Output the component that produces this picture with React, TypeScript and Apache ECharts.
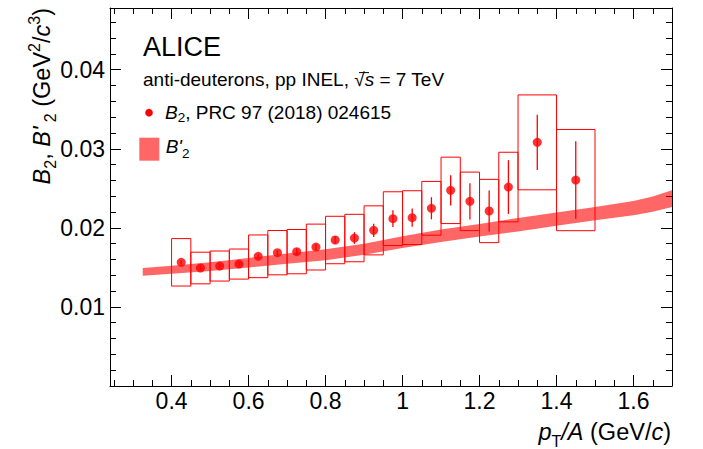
import React, { useEffect, useRef } from "react";
import * as echarts from "echarts";

const FONT = "'Liberation Sans', Arial, Helvetica, sans-serif";

// Data points (B2, PRC 97 (2018) 024615)
const binCenters = [0.425, 0.475, 0.525, 0.575, 0.625, 0.675, 0.725, 0.775, 0.825, 0.875, 0.925, 0.975, 1.025, 1.075, 1.125, 1.175, 1.225, 1.275, 1.35, 1.45];
const binLow = [0.4, 0.45, 0.5, 0.55, 0.6, 0.65, 0.7, 0.75, 0.8, 0.85, 0.9, 0.95, 1.0, 1.05, 1.1, 1.15, 1.2, 1.25, 1.3, 1.4];
const binHigh = [0.45, 0.5, 0.55, 0.6, 0.65, 0.7, 0.75, 0.8, 0.85, 0.9, 0.95, 1.0, 1.05, 1.1, 1.15, 1.2, 1.25, 1.3, 1.4, 1.5];
const b2Values = [0.01564, 0.01492, 0.01517, 0.01542, 0.0164, 0.01686, 0.01699, 0.01757, 0.01846, 0.01871, 0.01968, 0.02116, 0.02129, 0.02247, 0.02474, 0.02335, 0.02213, 0.02516, 0.03081, 0.02604];
const statErrors = [0.0003, 0.0003, 0.0003, 0.0003, 0.0003, 0.0003, 0.0004, 0.0004, 0.0005, 0.00074, 0.00084, 0.00105, 0.00116, 0.0014, 0.0019, 0.0023, 0.0026, 0.0034, 0.0035, 0.0049];
const systErrors = [0.003, 0.002, 0.0019, 0.0019, 0.0027, 0.0028, 0.0028, 0.0029, 0.003, 0.003, 0.0031, 0.0034, 0.0034, 0.0034, 0.0042, 0.0037, 0.004, 0.0044, 0.006, 0.0064];

// B'2 band
const bandX = [0.325, 0.4, 0.5, 0.6, 0.7, 0.8, 0.9, 1.0, 1.1, 1.2, 1.3, 1.4, 1.5, 1.6, 1.65, 1.7];
const bandLow = [0.01393, 0.0142, 0.01455, 0.015, 0.01545, 0.0159, 0.0166, 0.01745, 0.0182, 0.0189, 0.01955, 0.02025, 0.02095, 0.0216, 0.02205, 0.02265];
const bandHigh = [0.01493, 0.0152, 0.01565, 0.0162, 0.01675, 0.0173, 0.018, 0.01895, 0.0198, 0.0205, 0.02125, 0.02195, 0.02265, 0.0234, 0.02395, 0.02475];

// Tick labels
const xTickLabels = ["0.4", "0.6", "0.8", "1", "1.2", "1.4", "1.6"];
const yTickLabels = ["0.01", "0.02", "0.03", "0.04"];

const RED = "#ff0000";
const BAND = "rgba(255,0,0,0.6)";

const X_MIN = 0.24;
const X_MAX = 1.7;
const Y_MIN = 0;
const Y_MAX = 0.0478;

function xFmt(v: number) {
  const s = String(Math.round(v * 100) / 100);
  return xTickLabels.includes(s) ? s : "";
}
function yFmt(v: number) {
  const s = String(Math.round(v * 1000) / 1000);
  return yTickLabels.includes(s) ? s : "";
}

const tickStyle = { color: "#000", width: 1 };

function makeX(position: "bottom" | "top", labels: boolean) {
  return {
    type: "value",
    position,
    min: X_MIN,
    max: X_MAX,
    splitNumber: 7,
    axisLine: { show: true, onZero: false, lineStyle: { color: "#000", width: 1 } },
    axisTick: { show: true, inside: true, length: 11, lineStyle: tickStyle },
    minorTick: { show: true, splitNumber: 4, length: 6, lineStyle: tickStyle },
    axisLabel: {
      show: labels,
      formatter: xFmt,
      color: "#000",
      fontFamily: FONT,
      fontSize: 23,
      margin: 3,
      showMinLabel: false,
      showMaxLabel: false,
    },
    splitLine: { show: false },
  };
}
function makeY(position: "left" | "right", labels: boolean) {
  return {
    type: "value",
    position,
    min: Y_MIN,
    max: Y_MAX,
    interval: 0.01,
    axisLine: { show: true, onZero: false, lineStyle: { color: "#000", width: 1 } },
    axisTick: { show: true, inside: true, length: 11, lineStyle: tickStyle },
    minorTick: { show: true, splitNumber: 5, length: 6, lineStyle: tickStyle },
    axisLabel: {
      show: labels,
      formatter: yFmt,
      color: "#000",
      fontFamily: FONT,
      fontSize: 23,
      margin: 5,
      showMinLabel: false,
      showMaxLabel: false,
    },
    splitLine: { show: false },
  };
}

const titleRich = (size: number, sub: number, lh: number) => ({
  r: { fontFamily: FONT, fontSize: size, lineHeight: lh, fill: "#000" },
  i: { fontFamily: FONT, fontSize: size, fontStyle: "italic", lineHeight: lh, fill: "#000" },
  sub: { fontFamily: FONT, fontSize: sub, verticalAlign: "bottom", fill: "#000" },
  sup: { fontFamily: FONT, fontSize: sub, verticalAlign: "top", fill: "#000" },
});

const option: any = {
  animation: false,
  backgroundColor: "#fff",
  grid: { left: 110, right: 31, top: 8, bottom: 63, containLabel: false },
  xAxis: [makeX("bottom", true), makeX("top", false)],
  yAxis: [makeY("left", true), makeY("right", false)],
  graphic: [
    {
      type: "text",
      x: 143,
      y: 46.6,
      style: { text: "ALICE", fontFamily: FONT, fontSize: 27, fill: "#000", textAlign: "left", textVerticalAlign: "middle" },
    },
    {
      type: "text",
      x: 143,
      y: 79.4,
      style: {
        text: "{r|anti-deuterons, pp INEL, √}{i|s}{r| = 7 TeV}",
        rich: titleRich(19, 13.5, 24),
        textAlign: "left",
        textVerticalAlign: "middle",
      },
    },
    {
      type: "line",
      shape: { x1: 359, y1: 72.6, x2: 369, y2: 72.6 },
      style: { stroke: "#000", lineWidth: 1 },
    },
    {
      type: "circle",
      shape: { cx: 149, cy: 112.7, r: 3.8 },
      style: { fill: RED },
    },
    {
      type: "text",
      x: 165,
      y: 112.7,
      style: {
        text: "{i|B}{sub|2}{r|, PRC 97 (2018) 024615}",
        rich: titleRich(19, 13.5, 24),
        textAlign: "left",
        textVerticalAlign: "middle",
      },
    },
    {
      type: "rect",
      shape: { x: 139.3, y: 137.7, width: 20, height: 23 },
      style: { fill: BAND },
    },
    {
      type: "text",
      x: 165.7,
      y: 146.7,
      style: {
        text: "{i|B'}{sub|2}",
        rich: titleRich(19, 13.5, 28),
        textAlign: "left",
        textVerticalAlign: "middle",
      },
    },
    {
      type: "text",
      x: 671,
      y: 432,
      style: {
        text: "{i|p}{sub|T}{i|/A}{r| (GeV/}{i|c}{r|)}",
        rich: titleRich(23.5, 16, 35),
        textAlign: "right",
        textVerticalAlign: "middle",
      },
    },
    {
      type: "text",
      x: 42,
      y: 8,
      rotation: Math.PI / 2,
      style: {
        text: "{i|B}{sub|2}{r|, }{i|B'}{sub| 2}{r| (GeV}{sup|2}{r|/}{i|c}{sup|3}{r|)}",
        rich: titleRich(23.5, 16, 32),
        textAlign: "right",
        textVerticalAlign: "middle",
      },
    },
  ],
  series: [
    {
      type: "custom",
      name: "syst",
      xAxisIndex: 0,
      yAxisIndex: 0,
      z: 2,
      data: binCenters.map((c, i) => [binLow[i], binHigh[i], b2Values[i] - systErrors[i], b2Values[i] + systErrors[i]]),
      encode: { x: [0, 1], y: [2, 3] },
      renderItem: (params: any, api: any) => {
        const p1 = api.coord([api.value(0), api.value(3)]);
        const p2 = api.coord([api.value(1), api.value(2)]);
        return {
          type: "rect",
          shape: { x: p1[0], y: p1[1], width: p2[0] - p1[0], height: p2[1] - p1[1] },
          style: { fill: "none", stroke: RED, lineWidth: 1 },
        };
      },
    },
    {
      type: "custom",
      name: "band",
      xAxisIndex: 0,
      yAxisIndex: 0,
      z: 3,
      data: bandX.map((x, i) => [x, bandLow[i], bandHigh[i]]),
      encode: { x: 0, y: [1, 2] },
      renderItem: (params: any, api: any) => {
        if (params.dataIndex !== 0) return null;
        const pts: number[][] = [];
        for (let i = 0; i < bandX.length; i++) pts.push(api.coord([bandX[i], bandHigh[i]]));
        for (let i = bandX.length - 1; i >= 0; i--) pts.push(api.coord([bandX[i], bandLow[i]]));
        return { type: "polygon", shape: { points: pts }, style: { fill: BAND } };
      },
    },
    {
      type: "custom",
      name: "stat",
      xAxisIndex: 0,
      yAxisIndex: 0,
      z: 4,
      data: binCenters.map((c, i) => [c, b2Values[i] - statErrors[i], b2Values[i] + statErrors[i]]),
      encode: { x: 0, y: [1, 2] },
      renderItem: (params: any, api: any) => {
        const a = api.coord([api.value(0), api.value(1)]);
        const b = api.coord([api.value(0), api.value(2)]);
        return {
          type: "line",
          shape: { x1: a[0], y1: a[1], x2: b[0], y2: b[1] },
          style: { stroke: RED, lineWidth: 1.3 },
        };
      },
    },
    {
      type: "scatter",
      name: "B2",
      xAxisIndex: 0,
      yAxisIndex: 0,
      z: 5,
      symbol: "circle",
      symbolSize: 9,
      itemStyle: { color: RED },
      data: binCenters.map((c, i) => [c, b2Values[i]]),
    },
  ],
};

export default function App() {
  const ref = useRef<HTMLDivElement>(null);
  useEffect(() => {
    const chart = echarts.init(ref.current as HTMLDivElement, null, { renderer: "svg" });
    chart.setOption(option);
    return () => chart.dispose();
  }, []);
  return (
    <div
      ref={ref}
      style={{ position: "fixed", left: 0, top: 0, width: 703, height: 449, background: "#fff" }}
    />
  );
}
